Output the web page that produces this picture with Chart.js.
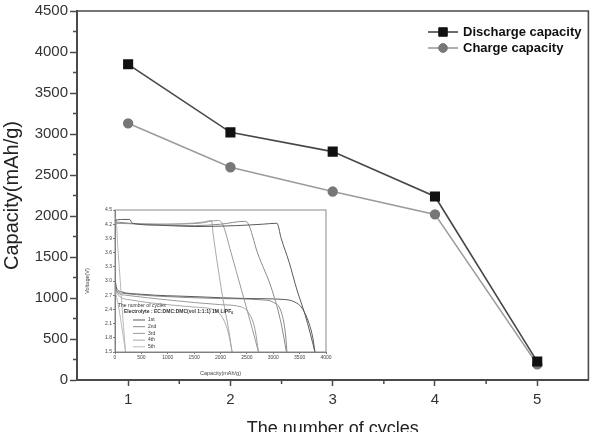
<!DOCTYPE html>
<html>
<head>
<meta charset="utf-8">
<script src="https://cdn.jsdelivr.net/npm/chart.js@4.4.1/dist/chart.umd.min.js"></script>
<style>
  html, body { margin: 0; padding: 0; background: #fff; }
  #wrap { position: relative; width: 596px; height: 432px; overflow: hidden; }
  #main { position: absolute; left: 0; top: 0; }
  #inset { position: absolute; left: 84px; top: 205px; }
</style>
</head>
<body>
<div id="wrap">
  <canvas id="main" width="596" height="432"></canvas>
  <canvas id="inset" width="250" height="172"></canvas>
</div>
<script>
/* ── main chart data ── */
const cycles = [1, 2, 3, 4, 5];
const dischargeCap = [3850, 3020, 2785, 2238, 225];
const chargeCap = [3130, 2595, 2298, 2020, 190];
const xTickValues = [1, 2, 3, 4, 5];
const yTickValues = [0, 500, 1000, 1500, 2000, 2500, 3000, 3500, 4000, 4500];

/* ── inset data: [capacity mAh/g, voltage V] ── */
const insetCycleNames = ['1st', '2nd', '3rd', '4th', '5th'];
const insetCharge1 = [[0, 4.28], [100, 4.3], [280, 4.3], [330, 4.22], [800, 4.18], [1500, 4.15], [2300, 4.17], [2800, 4.2], [3070, 4.22], [3150, 3.9], [3300, 3.4], [3450, 2.81], [3600, 2.3], [3700, 1.9], [3790, 1.5]];
const insetCharge2 = [[0, 4.25], [500, 4.2], [1500, 4.17], [2000, 4.2], [2450, 4.26], [2520, 4.22], [2700, 3.6], [2980, 2.8], [3150, 2.1], [3250, 1.5]];
const insetCharge3 = [[0, 4.22], [800, 4.2], [1600, 4.22], [1950, 4.28], [2040, 4.2], [2200, 3.6], [2400, 2.8], [2600, 2.0], [2720, 1.5]];
const insetCharge4 = [[0, 4.22], [900, 4.2], [1700, 4.25], [1830, 4.28], [1860, 4.0], [1950, 3.3], [2050, 2.6], [2150, 2.0], [2220, 1.5]];
const insetCharge5 = [[0, 4.35], [20, 4.3], [60, 3.6], [100, 3.0], [150, 2.2], [200, 1.5]];
const insetDischarge1 = [[0, 3.05], [30, 2.85], [100, 2.78], [500, 2.72], [1500, 2.67], [2500, 2.63], [3200, 2.61], [3400, 2.56], [3550, 2.42], [3680, 2.1], [3750, 1.8], [3790, 1.5]];
const insetDischarge2 = [[0, 3.0], [30, 2.8], [150, 2.74], [800, 2.68], [2000, 2.63], [2800, 2.6], [3000, 2.55], [3150, 2.35], [3230, 1.9], [3260, 1.5]];
const insetDischarge3 = [[0, 2.95], [30, 2.78], [200, 2.7], [1000, 2.6], [2000, 2.5], [2400, 2.45], [2550, 2.3], [2650, 2.0], [2720, 1.5]];
const insetDischarge4 = [[0, 2.9], [30, 2.75], [300, 2.6], [1000, 2.5], [1500, 2.45], [1900, 2.38], [2050, 2.2], [2150, 1.9], [2220, 1.5]];
const insetDischarge5 = [[0, 2.8], [60, 2.5], [120, 2.1], [200, 1.5]];
const insetXTicks = [0, 500, 1000, 1500, 2000, 2500, 3000, 3500, 4000];
const insetYTicks = [1.5, 1.8, 2.1, 2.4, 2.7, 3.0, 3.3, 3.6, 3.9, 4.2, 4.5];

const FONT = "'Liberation Sans', Arial, sans-serif";
const insetColors = ['#5a5a5a', '#8a8a8a', '#9a9a9a', '#a8a8a8', '#b8b8b8'];

// draws the top/right edge of the plot box
const framePlugin = {
  id: 'frame',
  afterDraw(chart, args, opts) {
    const { ctx, chartArea: a } = chart;
    ctx.save();
    ctx.strokeStyle = opts.color;
    ctx.lineWidth = opts.width;
    ctx.beginPath();
    ctx.moveTo(a.left, a.top);
    ctx.lineTo(a.right, a.top);
    ctx.lineTo(a.right, a.bottom);
    ctx.stroke();
    ctx.restore();
  }
};

// short ticks half way between the labelled ones
const minorTicksPlugin = {
  id: 'minorTicks',
  afterDraw(chart, args, opts) {
    const { ctx } = chart;
    const xs = chart.scales.x, ys = chart.scales.y;
    ctx.save();
    ctx.strokeStyle = opts.color;
    ctx.lineWidth = opts.width;
    ctx.beginPath();
    for (let i = 0; i < xs.ticks.length - 1; i++) {
      const v = (xs.ticks[i].value + xs.ticks[i + 1].value) / 2;
      const px = xs.getPixelForValue(v);
      ctx.moveTo(px, xs.top);
      ctx.lineTo(px, xs.top + opts.length);
    }
    for (let i = 0; i < ys.ticks.length - 1; i++) {
      const v = (ys.ticks[i].value + ys.ticks[i + 1].value) / 2;
      const py = ys.getPixelForValue(v);
      ctx.moveTo(ys.right, py);
      ctx.lineTo(ys.right - opts.length, py);
    }
    ctx.stroke();
    ctx.restore();
  }
};

// legend as line + marker + bold text, placed inside the plot
const lineLegendPlugin = {
  id: 'lineLegend',
  afterDraw(chart, args, opts) {
    const { ctx } = chart;
    ctx.save();
    ctx.font = opts.font;
    ctx.textBaseline = 'middle';
    chart.data.datasets.forEach((ds, i) => {
      const y = opts.y + i * opts.spacing;
      ctx.strokeStyle = ds.borderColor;
      ctx.lineWidth = ds.borderWidth;
      ctx.beginPath();
      ctx.moveTo(opts.x, y);
      ctx.lineTo(opts.x + opts.lineLength, y);
      ctx.stroke();
      ctx.fillStyle = ds.pointBackgroundColor;
      ctx.strokeStyle = ds.pointBorderColor;
      ctx.lineWidth = 1;
      Chart.helpers.drawPoint(ctx, { pointStyle: ds.pointStyle, radius: ds.pointRadius, borderWidth: 1 },
        opts.x + opts.lineLength / 2, y);
      ctx.fillStyle = opts.color;
      ctx.fillText(ds.label, opts.x + opts.lineLength + opts.gap, y + 0.5);
    });
    ctx.restore();
  }
};

new Chart(document.getElementById('main'), {
  type: 'line',
  data: {
    datasets: [{
      label: 'Discharge capacity',
      data: cycles.map((c, i) => ({ x: c, y: dischargeCap[i] })),
      borderColor: '#474747',
      borderWidth: 1.6,
      pointStyle: 'rect',
      pointRadius: 6,
      pointBackgroundColor: '#111',
      pointBorderColor: '#111',
      tension: 0,
    }, {
      label: 'Charge capacity',
      data: cycles.map((c, i) => ({ x: c, y: chargeCap[i] })),
      borderColor: '#9c9c9c',
      borderWidth: 1.6,
      pointStyle: 'circle',
      pointRadius: 4.4,
      pointBackgroundColor: '#777',
      pointBorderColor: '#777',
      tension: 0,
    }]
  },
  options: {
    responsive: false,
    animation: false,
    layout: { padding: { left: 0, right: 7, top: 4, bottom: -8 } },
    plugins: {
      legend: { display: false },
      tooltip: { enabled: false },
      frame: { color: '#4a4a4a', width: 1.6 },
      minorTicks: { color: '#4a4a4a', width: 1.5, length: 4 },
      lineLegend: { x: 428, y: 32, spacing: 16, lineLength: 30, gap: 5, font: 'bold 13px ' + FONT, color: '#111' }
    },
    scales: {
      x: {
        type: 'linear',
        min: 0.5,
        max: 5.5,
        afterBuildTicks: s => { s.ticks = xTickValues.map(v => ({ value: v })); },
        afterFit: s => { s.height = 60; },
        ticks: { font: { size: 15, family: FONT }, color: '#333', padding: 5, callback: v => String(v) },
        grid: { drawOnChartArea: false, tickLength: 6, tickColor: '#4a4a4a', tickWidth: 1.5 },
        border: { color: '#4a4a4a', width: 2 },
        title: { display: true, text: 'The number of cycles', font: { size: 18, family: FONT }, color: '#222', padding: { top: 0, bottom: 0 } }
      },
      y: {
        type: 'linear',
        min: 0,
        max: 4500,
        afterBuildTicks: s => { s.ticks = yTickValues.map(v => ({ value: v })); },
        afterFit: s => { s.width = 77; },
        ticks: { font: { size: 15, family: FONT }, color: '#333', padding: 2, callback: v => String(v) },
        grid: { drawOnChartArea: false, tickLength: 7, tickColor: '#4a4a4a', tickWidth: 1.5 },
        border: { color: '#4a4a4a', width: 2 },
        title: { display: true, text: 'Capacity(mAh/g)', font: { size: 20, family: FONT }, color: '#222', padding: { top: 0, bottom: 0 } }
      }
    }
  },
  plugins: [framePlugin, minorTicksPlugin, lineLegendPlugin]
});

/* ── inset: voltage profiles ── */
const insetAnnotPlugin = {
  id: 'insetAnnot',
  afterDraw(chart, args, opts) {
    const { ctx, chartArea: a } = chart;
    ctx.save();
    ctx.strokeStyle = '#8a8a8a';
    ctx.lineWidth = 1;
    ctx.strokeRect(a.left, a.top, a.right - a.left, a.bottom - a.top);
    ctx.fillStyle = '#333';
    ctx.textBaseline = 'middle';
    ctx.font = '5px ' + FONT;
    ctx.fillText('The number of cycles', opts.x, opts.y);
    ctx.font = 'bold 5px ' + FONT;
    ctx.fillText('Electrolyte : EC:DMC:DMC(vol 1:1:1) 1M LiPF', opts.x + 6, opts.y + 6);
    const w = ctx.measureText('Electrolyte : EC:DMC:DMC(vol 1:1:1) 1M LiPF').width;
    ctx.font = 'bold 3.5px ' + FONT;
    ctx.fillText('6', opts.x + 6 + w, opts.y + 7.5);
    ctx.font = '5px ' + FONT;
    insetCycleNames.forEach((name, i) => {
      const y = opts.y + 14 + i * 6.7;
      ctx.strokeStyle = insetColors[i];
      ctx.beginPath();
      ctx.moveTo(opts.x + 15, y);
      ctx.lineTo(opts.x + 27, y);
      ctx.stroke();
      ctx.fillText(name, opts.x + 30, y);
    });
    ctx.restore();
  }
};

const chargeSets = [insetCharge1, insetCharge2, insetCharge3, insetCharge4, insetCharge5];
const dischargeSets = [insetDischarge1, insetDischarge2, insetDischarge3, insetDischarge4, insetDischarge5];
const insetDatasets = [];
chargeSets.forEach((pts, i) => insetDatasets.push({
  data: pts.map(p => ({ x: p[0], y: p[1] })), borderColor: insetColors[i]
}));
dischargeSets.forEach((pts, i) => insetDatasets.push({
  data: pts.map(p => ({ x: p[0], y: p[1] })), borderColor: insetColors[i]
}));

new Chart(document.getElementById('inset'), {
  type: 'line',
  data: { datasets: insetDatasets },
  options: {
    responsive: false,
    animation: false,
    datasets: { line: { borderWidth: 1, pointRadius: 0, tension: 0.3, cubicInterpolationMode: 'monotone' } },
    layout: { padding: { left: 0, right: 8, top: 5, bottom: 0 } },
    plugins: {
      legend: { display: false },
      tooltip: { enabled: false },
      insetAnnot: { x: 34, y: 101 }
    },
    scales: {
      x: {
        type: 'linear', min: 0, max: 4000,
        afterBuildTicks: s => { s.ticks = insetXTicks.map(v => ({ value: v })); },
        afterFit: s => { s.height = 25; },
        ticks: { font: { size: 5, family: FONT }, color: '#444', padding: 1, maxRotation: 0, callback: v => String(v) },
        grid: { drawOnChartArea: false, tickLength: 2, tickColor: '#777' },
        border: { color: '#777', width: 1 },
        title: { display: true, text: 'Capacity(mAh/g)', font: { size: 5.5, family: FONT }, color: '#444', padding: { top: 1, bottom: 0 } }
      },
      y: {
        type: 'linear', min: 1.5, max: 4.5,
        afterBuildTicks: s => { s.ticks = insetYTicks.map(v => ({ value: v })); },
        afterFit: s => { s.width = 31; },
        ticks: { font: { size: 5, family: FONT }, color: '#444', padding: 1, callback: v => v.toFixed(1) },
        grid: { drawOnChartArea: false, tickLength: 2, tickColor: '#777' },
        border: { color: '#777', width: 1 },
        title: { display: true, text: 'Voltage(V)', font: { size: 5.5, family: FONT }, color: '#444', padding: { top: 0, bottom: 2 } }
      }
    }
  },
  plugins: [insetAnnotPlugin]
});
</script>
</body>
</html>
